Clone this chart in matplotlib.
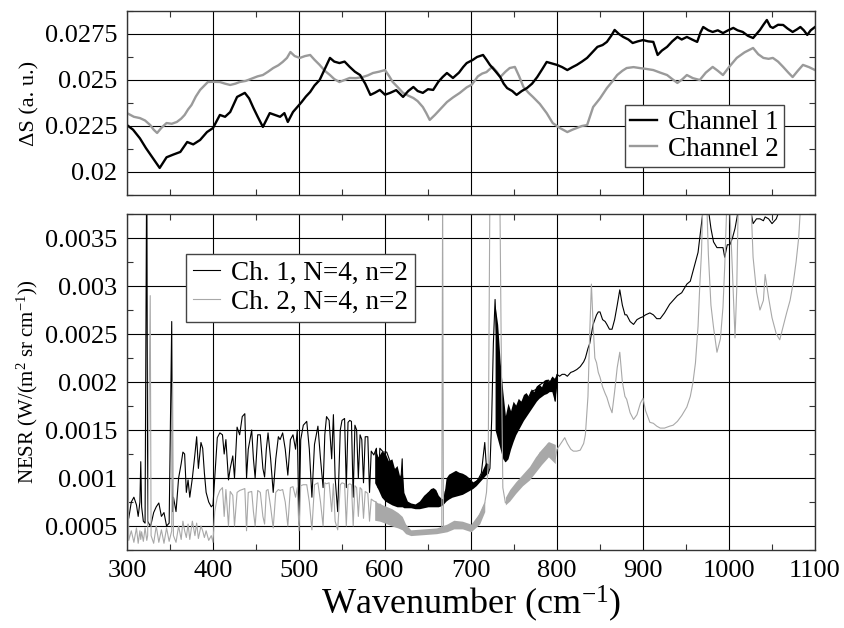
import numpy as np
import matplotlib.pyplot as plt
from matplotlib.ticker import MultipleLocator, FuncFormatter

plt.rcParams['font.family'] = ['Liberation Serif', 'DejaVu Serif']
plt.rcParams['mathtext.default'] = 'regular'

# --- signal drift (upper panel), a. u. ---
ch1_wn = [300, 307, 315, 322, 330, 338, 346, 354, 362, 370, 377, 385, 393, 400, 408, 414,
          420, 428, 437, 442, 447, 452, 458, 466, 472, 478, 483, 487, 493, 503, 508, 513,
          518, 524, 530, 536, 541, 547, 553, 559, 565, 571, 577, 583, 588, 594, 600, 606,
          613, 621, 627, 633, 638, 644, 650, 656, 662, 667, 672, 679, 686, 691, 695, 702,
          707, 714, 718, 722, 728, 734, 738, 742, 748, 753, 759, 765, 771, 777, 783, 788,
          794, 800, 806, 812, 818, 823, 829, 835, 841, 847, 853, 858, 863, 867, 872, 877,
          883, 888, 894, 900, 906, 912, 917, 922, 928, 934, 940, 945, 951, 957, 963, 967,
          970, 976, 981, 987, 993, 999, 1005, 1010, 1016, 1022, 1028, 1032, 1036, 1040,
          1044, 1048, 1051, 1057, 1063, 1068, 1074, 1079, 1083, 1087, 1091, 1095, 1100]
ch1_signal = [0.02255, 0.02230, 0.02183, 0.02130, 0.02076, 0.02022, 0.02080, 0.02095,
              0.02109, 0.02163, 0.02150, 0.02174, 0.02217, 0.02239, 0.02310, 0.02300,
              0.02326, 0.02408, 0.02430, 0.02400, 0.02348, 0.02300, 0.02245, 0.02320,
              0.02310, 0.02300, 0.02320, 0.02272, 0.02326, 0.02380, 0.02410, 0.02435,
              0.02470, 0.02500, 0.02560, 0.02620, 0.02600, 0.02592, 0.02600, 0.02571,
              0.02545, 0.02527, 0.02480, 0.02419, 0.02430, 0.02446, 0.02420, 0.02430,
              0.02445, 0.02408, 0.02440, 0.02462, 0.02440, 0.02430, 0.02450, 0.02446,
              0.02490, 0.02516, 0.02538, 0.02511, 0.02540, 0.02571, 0.02592, 0.02609,
              0.02625, 0.02636, 0.02610, 0.02582, 0.02550, 0.02516, 0.02480, 0.02456,
              0.02440, 0.02419, 0.02440, 0.02456, 0.02480, 0.02516, 0.02560, 0.02598,
              0.02590, 0.02582, 0.02570, 0.02554, 0.02570, 0.02582, 0.02600, 0.02620,
              0.02650, 0.02680, 0.02690, 0.02707, 0.02740, 0.02772, 0.02750, 0.02734,
              0.02720, 0.02701, 0.02710, 0.02717, 0.02710, 0.02707, 0.02636, 0.02660,
              0.02680, 0.02710, 0.02734, 0.02720, 0.02734, 0.02720, 0.02707, 0.02760,
              0.02788, 0.02770, 0.02761, 0.02770, 0.02755, 0.02770, 0.02783, 0.02770,
              0.02761, 0.02740, 0.02728, 0.02750, 0.02772, 0.02800, 0.02826, 0.02790,
              0.02783, 0.02800, 0.02799, 0.02780, 0.02761, 0.02775, 0.02788, 0.02770,
              0.02745, 0.02770, 0.02788]

ch2_wn = [300, 308, 315, 321, 327, 331, 335, 340, 346, 352, 358, 363, 367, 371, 375, 380,
          385, 390, 394, 400, 408, 414, 420, 426, 431, 438, 447, 452, 458, 464, 470, 476,
          481, 486, 490, 495, 501, 507, 513, 518, 524, 530, 536, 541, 547, 553, 559, 566,
          574, 580, 586, 593, 600, 605, 609, 615, 621, 627, 633, 638, 644, 648, 652, 658,
          664, 672, 679, 687, 695, 701, 708, 713, 718, 722, 725, 730, 734, 740, 745, 751,
          756, 761, 767, 772, 780, 788, 795, 803, 812, 818, 823, 829, 835, 842, 850, 858,
          864, 870, 876, 881, 889, 896, 904, 912, 920, 928, 934, 940, 946, 951, 958, 966,
          973, 981, 987, 993, 1000, 1009, 1018, 1028, 1034, 1040, 1046, 1051, 1057, 1063,
          1069, 1074, 1080, 1086, 1093, 1100]
ch2_signal = [0.02320, 0.02300, 0.02293, 0.02280, 0.02255, 0.02230, 0.02212, 0.02240,
              0.02266, 0.02262, 0.02272, 0.02290, 0.02310, 0.02340, 0.02364, 0.02410,
              0.02446, 0.02470, 0.02489, 0.02490, 0.02489, 0.02480, 0.02473, 0.02480,
              0.02489, 0.02495, 0.02511, 0.02520, 0.02527, 0.02545, 0.02565, 0.02580,
              0.02598, 0.02620, 0.02652, 0.02630, 0.02620, 0.02630, 0.02636, 0.02610,
              0.02582, 0.02550, 0.02527, 0.02505, 0.02489, 0.02500, 0.02511, 0.02510,
              0.02516, 0.02525, 0.02538, 0.02545, 0.02554, 0.02520, 0.02489, 0.02460,
              0.02430, 0.02415, 0.02402, 0.02385, 0.02353, 0.02320, 0.02283, 0.02310,
              0.02340, 0.02380, 0.02405, 0.02430, 0.02460, 0.02475, 0.02520, 0.02535,
              0.02543, 0.02560, 0.02571, 0.02545, 0.02516, 0.02545, 0.02565, 0.02571,
              0.02520, 0.02462, 0.02430, 0.02408, 0.02370, 0.02320, 0.02266, 0.02240,
              0.02217, 0.02230, 0.02239, 0.02250, 0.02255, 0.02353, 0.02400, 0.02456,
              0.02490, 0.02527, 0.02550, 0.02565, 0.02570, 0.02565, 0.02560, 0.02554,
              0.02540, 0.02527, 0.02505, 0.02484, 0.02505, 0.02527, 0.02510, 0.02500,
              0.02540, 0.02571, 0.02550, 0.02527, 0.02570, 0.02620, 0.02650, 0.02674,
              0.02640, 0.02620, 0.02615, 0.02620, 0.02600, 0.02571, 0.02540, 0.02516,
              0.02550, 0.02582, 0.02570, 0.02554]

# --- NESR (lower panel), units of 1e-4 W/(m2 sr cm-1) ---
nesr_wn = [300, 301, 302, 305, 308, 311, 313, 315, 316, 317, 319, 321, 323, 324, 327, 328,
           331, 334, 337, 340, 343, 346, 349, 352, 353, 354, 357, 360, 363, 365, 367, 369,
           371, 373, 376, 379, 381, 383, 386, 388, 390, 392, 395, 398, 400, 402, 405, 408,
           411, 413, 415, 418, 420, 423, 425, 428, 431, 434, 437, 439, 441, 445, 447, 449,
           452, 455, 458, 460, 462, 464, 467, 470, 473, 476, 478, 481, 484, 487, 490, 493,
           496, 498, 500, 502, 505, 509, 512, 515, 518, 522, 525, 528, 530, 532, 535, 538,
           540, 542, 545, 548, 550, 553, 555, 557, 559, 561, 563, 565, 567, 569, 571, 573,
           575, 577, 580, 582, 584, 587, 590, 592, 594, 598, 602, 606, 610, 614, 618, 620,
           621, 623, 626, 630, 635, 640, 645, 650, 656, 660, 664, 666, 667, 668, 670, 676,
           682, 687, 694, 702, 708, 712, 716, 718, 720, 722, 724, 726, 728, 730, 733, 735,
           737, 740, 742, 745, 748, 752, 756, 760, 765, 770, 775, 780, 785, 790, 792, 795,
           798, 800, 803, 806, 809, 812, 816, 819, 823, 827, 831, 833, 836, 838, 840, 842,
           844, 846, 848, 850, 853, 856, 858, 861, 864, 867, 870, 873, 876, 879, 881, 885,
           889, 893, 897, 900, 903, 908, 912, 916, 920, 925, 931, 935, 940, 945, 951, 955,
           958, 961, 964, 966, 968, 970, 973, 976, 979, 982, 986, 990, 993, 995, 998, 1001,
           1004, 1007, 1009, 1011, 1015, 1020, 1025, 1028, 1032, 1036, 1040, 1042, 1046,
           1050, 1055, 1059, 1063, 1067, 1071, 1075, 1078, 1081, 1083, 1086, 1090, 1095, 1100]
nesr_ch1 = [6.0, 6.2, 5.8, 7.5, 8.0, 7.2, 6.0, 7.5, 11.7, 7.0, 5.5, 5.3, 45.0, 5.5, 5.0, 5.2,
            6.4, 7.0, 7.4, 6.0, 6.4, 5.0, 5.3, 26.3, 6.5, 8.0, 6.5, 10.0, 11.5, 12.7, 12.5, 8.5,
            9.8, 8.0, 10.0, 12.5, 14.3, 11.0, 13.7, 13.1, 10.5, 8.5, 7.5, 7.0, 7.2, 10.0, 14.2, 14.7,
            14.5, 12.5, 14.0, 9.8, 11.0, 12.3, 10.0, 15.3, 14.5, 16.4, 16.7, 10.0, 13.0, 15.0, 12.0, 10.0,
            14.5, 14.5, 11.0, 10.1, 13.0, 14.7, 12.0, 8.5, 12.0, 14.3, 14.0, 14.7, 13.0, 10.3, 14.0, 14.5,
            13.0, 15.0, 5.2, 14.0, 15.5, 15.9, 13.0, 8.0, 13.5, 15.4, 12.0, 9.0, 14.5, 16.4, 16.0, 12.0,
            16.6, 10.0, 6.5, 15.0, 16.0, 16.2, 9.0, 15.8, 16.0, 15.9, 8.0, 15.5, 15.0, 10.0, 14.5, 14.0,
            9.5, 14.3, 14.3, 8.5, 12.8, 12.4, 13.1, 9.0, 13.1, 12.7, 12.7, 11.7, 11.0, 10.0, 9.0, 12.0,
            8.5, 7.2, 7.0, 7.1, 7.0, 7.0, 7.6, 8.4, 8.8, 8.4, 7.4, 7.3, 7.4, 7.4, 8.6, 9.5,
            9.6, 9.4, 9.2, 9.3, 9.8, 10.5, 13.7, 11.0, 10.5, 11.0, 16.0, 24.0, 28.6, 24.0, 20.0, 17.0,
            14.0, 11.7, 14.0, 17.0, 16.5, 17.0, 17.5, 18.0, 18.0, 19.0, 19.2, 19.7, 20.0, 20.2, 20.0, 20.5,
            18.0, 20.8, 20.6, 20.8, 20.8, 20.6, 21.0, 21.1, 21.3, 21.6, 22.1, 22.5, 23.5, 24.0, 25.0, 26.0,
            26.5, 27.0, 27.3, 27.3, 26.5, 26.3, 26.0, 25.5, 25.5, 26.5, 28.0, 29.6, 28.0, 27.0, 27.0, 26.3,
            26.0, 26.5, 26.7, 26.8, 27.0, 27.2, 27.0, 26.6, 26.6, 27.2, 28.1, 28.5, 29.0, 29.3, 30.2, 30.5,
            31.5, 32.5, 33.5, 35.0, 36.5, 38.0, 38.5, 38.0, 36.0, 34.6, 34.0, 34.0, 34.0, 33.0, 34.3, 34.3,
            35.0, 36.0, 37.0, 38.0, 39.0, 39.0, 38.0, 36.5, 37.0, 37.0, 36.8, 37.2, 37.0,
            36.5, 37.0, 38.0, 39.0, 40.0, 40.0, 40.0, 40.0, 40.0, 40.0, 40.0, 40.0, 40.0, 40.0]
nesr_ch2 = [3.8, 17.0, 3.5, 4.5, 3.3, 4.8, 3.2, 4.5, 3.6, 4.4, 3.4, 4.8, 3.5, 4.0, 29.0, 4.0,
            3.2, 5.0, 3.3, 4.6, 3.2, 4.8, 3.4, 4.5, 20.0, 4.0, 3.3, 5.0, 3.6, 5.5, 4.5, 3.8,
            5.2, 3.6, 5.5, 4.0, 5.3, 3.7, 5.0, 4.5, 3.8, 4.5, 3.5, 4.0, 3.3, 6.5, 8.0, 8.7,
            9.0, 6.0, 8.8, 5.0, 8.6, 8.2, 5.0, 8.5, 8.7, 8.8, 8.9, 4.5, 8.5, 8.6, 6.5, 5.0,
            8.7, 8.5, 6.0, 5.2, 8.7, 8.8, 7.0, 4.8, 8.5, 8.8, 8.7, 8.8, 7.5, 5.0, 9.0, 9.1,
            8.0, 9.0, 4.5, 9.2, 9.3, 9.3, 7.5, 4.6, 9.3, 9.5, 7.5, 5.0, 9.5, 9.4, 9.5, 6.5,
            9.4, 5.5, 4.6, 9.3, 9.5, 9.4, 5.0, 9.3, 9.4, 9.3, 5.0, 9.2, 9.0, 6.0, 9.0, 8.8,
            5.8, 8.6, 8.4, 5.5, 7.8, 7.6, 7.5, 5.6, 7.3, 7.0, 6.8, 6.6, 6.3, 6.0, 5.8, 5.6,
            5.0, 4.6, 4.4, 4.2, 4.3, 4.3, 4.4, 4.5, 4.5, 4.5, 4.4, 4.4, 40.0, 4.4, 4.6, 5.0,
            5.2, 5.1, 5.0, 5.0, 5.8, 6.6, 7.4, 8.5, 11.6, 40.0, 45.0, 45.0, 45.0, 45.0, 45.0, 25.0,
            9.0, 7.4, 7.6, 8.0, 8.5, 9.1, 9.5, 9.9, 10.5, 11.0, 11.5, 12.6, 13.0, 13.6, 13.0, 13.2,
            12.0, 13.0, 13.4, 13.8, 14.2, 13.6, 13.0, 12.8, 12.8, 12.9, 13.6, 14.5, 18.5, 25.0, 30.2, 26.0,
            22.5, 22.0, 21.0, 20.5, 19.5, 18.8, 18.4, 17.5, 16.8, 19.0, 21.5, 23.1, 20.0, 18.5, 18.2, 16.8,
            16.1, 16.6, 17.8, 18.3, 17.0, 15.8, 15.7, 15.4, 15.2, 15.2, 15.4, 15.5, 15.9, 16.5, 17.4, 18.5,
            19.9, 22.0, 25.8, 30.0, 33.5, 40.0, 42.0, 33.3, 28.0, 25.7, 23.1, 24.5, 27.8, 32.0, 40.0, 38.0,
            31.5, 24.6, 29.7, 40.0, 45.0, 45.0, 40.0, 33.0, 29.4, 27.5, 28.5, 31.2, 28.8,
            26.7, 25.0, 24.4, 25.8, 27.2, 28.5, 30.5, 32.5, 35.0, 38.0, 42.0, 45.0, 45.0, 45.0]

# dense fine structure, drawn as envelope bands
ch1_band1_wn = [588, 592, 596, 600, 604, 608, 611, 614, 617, 620, 622, 626, 630, 635, 640,
                645, 650, 653, 656, 659, 662, 665, 668, 671, 674, 678, 682, 686, 690, 694,
                698, 702, 706, 710, 714, 717, 720]
ch1_band1_lo = [9.5, 8.8, 8.0, 7.6, 7.4, 7.2, 7.1, 7.0, 7.0, 7.0, 6.9, 6.9, 6.9, 6.8, 6.8,
                6.9, 7.0, 7.0, 7.0, 7.0, 7.0, 7.1, 7.3, 7.6, 7.8, 8.0, 8.1, 8.2, 8.3, 8.5,
                8.7, 8.9, 9.2, 9.6, 10.0, 10.3, 10.5]
ch1_band1_hi = [13.1, 12.2, 12.8, 12.6, 11.8, 12.0, 11.0, 11.3, 10.2, 10.8, 8.5, 7.6, 7.4, 7.3, 7.6,
                8.2, 8.6, 8.9, 9.0, 8.8, 8.2, 7.9, 7.8, 10.0, 10.4, 10.6, 10.8, 10.6, 10.5, 10.3,
                10.0, 9.6, 9.8, 10.2, 11.0, 11.6, 11.5]
ch1_band2_wn = [728, 731, 734, 737, 740, 743, 746, 749, 752, 755, 758, 761, 764, 767, 770,
                773, 776, 779, 782, 785, 788, 791, 794, 797, 800]
ch1_band2_lo = [15.0, 14.0, 13.0, 12.0, 11.7, 12.0, 13.0, 13.8, 14.5, 15.0, 15.5, 16.0, 16.4, 16.8, 17.2,
                17.6, 18.0, 18.3, 18.5, 18.7, 18.8, 19.0, 19.0, 18.0, 19.8]
ch1_band2_hi = [28.0, 26.0, 22.0, 19.0, 16.5, 17.8, 17.0, 18.0, 17.6, 18.3, 18.0, 18.7, 18.9, 18.5, 19.3,
                19.0, 19.6, 19.8, 19.5, 20.2, 20.3, 20.0, 20.6, 20.4, 21.0]

ch2_band1_wn = [588, 594, 600, 608, 615, 620, 624, 630, 645, 660, 672, 680, 690, 700, 710, 716]
ch2_band1_lo = [5.6, 5.5, 5.3, 5.0, 4.8, 4.6, 4.2, 4.0, 4.1, 4.2, 4.4, 4.7, 4.7, 4.4, 5.2, 6.5]
ch2_band1_hi = [7.6, 7.3, 7.1, 6.8, 6.4, 6.0, 5.2, 4.6, 4.7, 4.8, 5.2, 5.6, 5.5, 5.2, 6.4, 7.6]
ch2_band2_wn = [740, 745, 752, 760, 768, 775, 782, 790, 798]
ch2_band2_lo = [7.2, 7.6, 8.4, 9.2, 9.8, 10.6, 11.4, 12.2, 11.5]
ch2_band2_hi = [8.0, 8.8, 9.6, 10.4, 11.2, 12.2, 13.0, 13.8, 13.5]

scale = 1e-4
gray = '#9a9a9a'
light_gray = '#a8a8a8'

fig = plt.figure(figsize=(8.45, 6.28), dpi=100)
ax_top = fig.add_axes([0.1503, 0.6895, 0.8142, 0.2930])
ax_bot = fig.add_axes([0.1503, 0.1242, 0.8142, 0.5350])

ax_top.plot(ch2_wn, ch2_signal, color=gray, lw=1.7, label='Channel 2', zorder=3)
ax_top.plot(ch1_wn, ch1_signal, color='black', lw=1.7, label='Channel 1', zorder=4)

ax_bot.fill_between(ch1_band1_wn, np.array(ch1_band1_lo) * scale, np.array(ch1_band1_hi) * scale,
                    color='black', lw=0, zorder=3)
ax_bot.fill_between(ch1_band2_wn, np.array(ch1_band2_lo) * scale, np.array(ch1_band2_hi) * scale,
                    color='black', lw=0, zorder=3)
ax_bot.fill_between(ch2_band1_wn, np.array(ch2_band1_lo) * scale, np.array(ch2_band1_hi) * scale,
                    color=light_gray, lw=0, zorder=4)
ax_bot.fill_between(ch2_band2_wn, np.array(ch2_band2_lo) * scale, np.array(ch2_band2_hi) * scale,
                    color=light_gray, lw=0, zorder=4)
ax_bot.plot(nesr_wn, np.array(nesr_ch1) * scale, color='black', lw=0.8,
            label='Ch. 1, N=4, n=2', zorder=3)
ax_bot.plot(nesr_wn, np.array(nesr_ch2) * scale, color=light_gray, lw=0.8,
            label='Ch. 2, N=4, n=2', zorder=4)

fmt = FuncFormatter(lambda v, pos: f'{v:g}')
for ax in (ax_top, ax_bot):
    ax.set_xlim(300, 1100)
    ax.xaxis.set_major_locator(MultipleLocator(100))
    ax.xaxis.set_minor_locator(MultipleLocator(50))
    ax.grid(True, which='major', color='black', lw=0.8, zorder=1)
    ax.tick_params(which='both', direction='in', top=True, right=True, labelsize=19,
                   color='#333333')
    ax.tick_params(which='major', length=0, pad=7)
    ax.tick_params(which='minor', length=4, width=0.8)
    ax.yaxis.set_major_formatter(fmt)
    for sp in ax.spines.values():
        sp.set_linewidth(1.0)
        sp.set_color('#333333')
        sp.set_zorder(5)

ax_top.set_ylim(0.01875, 0.02875)
ax_top.yaxis.set_major_locator(MultipleLocator(0.0025))
ax_top.yaxis.set_minor_locator(MultipleLocator(0.00125))
ax_top.tick_params(labelbottom=False)
ax_top.set_ylabel('ΔS (a. u.)', fontsize=16)
ax_top.yaxis.set_label_coords(-0.127, 0.5)

ax_bot.set_ylim(0.00025, 0.00375)
ax_bot.yaxis.set_major_locator(MultipleLocator(0.0005))
ax_bot.yaxis.set_minor_locator(MultipleLocator(0.00025))
ax_bot.set_ylabel('NESR (W/(m$^{2}$ sr cm$^{-1}$))', fontsize=15)
ax_bot.yaxis.set_label_coords(-0.127, 0.5)
ax_bot.set_xlabel('Wavenumber (cm$^{-1}$)', fontsize=26, labelpad=1)

h, l = ax_top.get_legend_handles_labels()
leg = ax_top.legend(h[::-1], l[::-1], loc='lower right', bbox_to_anchor=(0.955, 0.152),
                    borderaxespad=0, fontsize=19.5, handlelength=1.0, handletextpad=0.4,
                    labelspacing=0.05, borderpad=0.2, fancybox=False, framealpha=1,
                    edgecolor='#444444')
leg.get_frame().set_linewidth(1.0)
leg.set_zorder(6)

leg2 = ax_bot.legend(loc='upper left', bbox_to_anchor=(0.086, 0.881), borderaxespad=0,
                     fontsize=19.5, handlelength=1.0, handletextpad=0.4, labelspacing=0.15,
                     borderpad=0.25, fancybox=False, framealpha=1, edgecolor='#444444')
leg2.get_frame().set_linewidth(1.0)
leg2.set_zorder(6)

fig.savefig('out.png', dpi=100)
